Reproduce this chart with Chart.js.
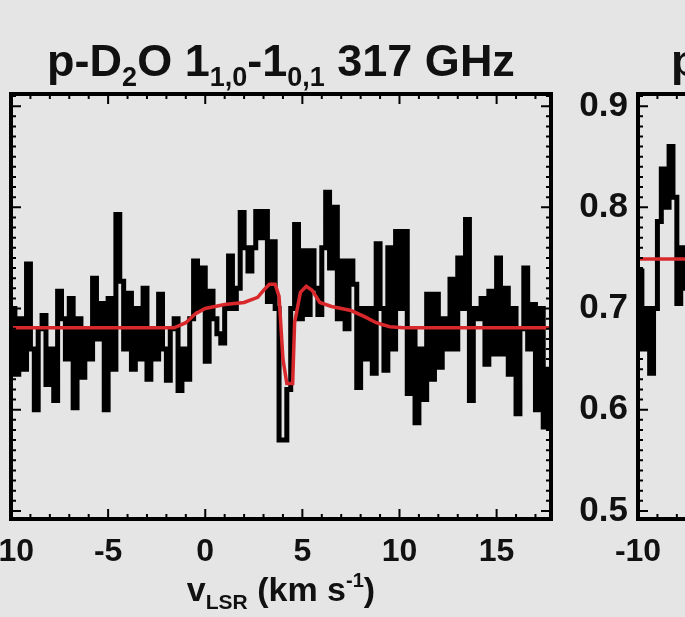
<!DOCTYPE html>
<html>
<head>
<meta charset="utf-8">
<script src="https://cdn.jsdelivr.net/npm/chart.js@4.4.0/dist/chart.umd.min.js"></script>
<style>
  body { margin: 0; width: 685px; height: 617px; overflow: hidden; position: relative;
         background: #e5e5e5; font-family: "Liberation Sans", Arial, sans-serif; font-weight: bold; }
  canvas { position: absolute; top: 0; }
  #left { left: -70px; }
  #right { left: 560px; }
  .title { position: absolute; font-size: 45px; white-space: nowrap; color: #111; }
  .title sub { font-size: 27px; vertical-align: -10px; line-height: 0; }
  #xlabel { position: absolute; font-size: 34px; white-space: nowrap; color: #111; }
  #xlabel sub { font-size: 21px; vertical-align: -8px; line-height: 0; }
  #xlabel sup { font-size: 20px; vertical-align: 14px; line-height: 0; }
</style>
</head>
<body>
<canvas id="left" width="630" height="617"></canvas>
<canvas id="right" width="640" height="617"></canvas>
<div class="title" style="left:281px; top:35px; transform:translateX(-50%);">p-D<sub>2</sub>O 1<sub>1,0</sub>-1<sub>0,1</sub> 317 GHz</div>
<div class="title" style="left:671px; top:35px;">p</div>
<div id="xlabel" style="left:281px; top:570px; transform:translateX(-50%);">v<sub>LSR</sub> (km s<sup>-1</sup>)</div>
<script>
// channel velocities (km/s), left panel
const LEFT_V = [-9.9, -9.7, -9.5, -9.3, -9.1, -8.9, -8.7, -8.5, -8.3, -8.1,
  -7.9, -7.7, -7.5, -7.3, -7.1, -6.9, -6.7, -6.5, -6.3, -6.1,
  -5.9, -5.7, -5.5, -5.3, -5.1, -4.9, -4.7, -4.5, -4.3, -4.1,
  -3.9, -3.7, -3.5, -3.3, -3.1, -2.9, -2.7, -2.5, -2.3, -2.1,
  -1.9, -1.7, -1.5, -1.3, -1.1, -0.9, -0.7, -0.5, -0.3, -0.1,
  0.1, 0.3, 0.5, 0.7, 0.9, 1.1, 1.3, 1.5, 1.7, 1.9,
  2.1, 2.3, 2.5, 2.7, 2.9, 3.1, 3.3, 3.5, 3.7, 3.9,
  4.1, 4.3, 4.5, 4.7, 4.9, 5.1, 5.3, 5.5, 5.7, 5.9,
  6.1, 6.3, 6.5, 6.7, 6.9, 7.1, 7.3, 7.5, 7.7, 7.9,
  8.1, 8.3, 8.5, 8.7, 8.9, 9.1, 9.3, 9.5, 9.7, 9.9,
  10.1, 10.3, 10.5, 10.7, 10.9, 11.1, 11.3, 11.5, 11.7, 11.9,
  12.1, 12.3, 12.5, 12.7, 12.9, 13.1, 13.3, 13.5, 13.7, 13.9,
  14.1, 14.3, 14.5, 14.7, 14.9, 15.1, 15.3, 15.5, 15.7, 15.9,
  16.1, 16.3, 16.5, 16.7, 16.9, 17.1, 17.3, 17.5, 17.7];
// antenna temperature per channel (K), left panel
const LEFT_T = [0.700, 0.635, 0.690, 0.640, 0.744, 0.660, 0.600, 0.680, 0.693, 0.625,
  0.660, 0.609, 0.717, 0.690, 0.650, 0.710, 0.602, 0.690, 0.632, 0.680,
  0.650, 0.730, 0.670, 0.705, 0.600, 0.710, 0.640, 0.793, 0.727, 0.660,
  0.715, 0.640, 0.700, 0.650, 0.720, 0.630, 0.680, 0.650, 0.714, 0.660,
  0.629, 0.680, 0.690, 0.619, 0.660, 0.630, 0.690, 0.747, 0.700, 0.740,
  0.648, 0.717, 0.690, 0.675, 0.666, 0.700, 0.752, 0.700, 0.720, 0.795,
  0.760, 0.737, 0.760, 0.796, 0.770, 0.796, 0.707, 0.766, 0.700, 0.570,
  0.570, 0.620, 0.700, 0.783, 0.690, 0.757, 0.694, 0.757, 0.720, 0.694,
  0.760, 0.815, 0.740, 0.800, 0.690, 0.747, 0.680, 0.747, 0.724, 0.622,
  0.700, 0.650, 0.700, 0.636, 0.764, 0.700, 0.639, 0.760, 0.660, 0.776,
  0.700, 0.776, 0.616, 0.680, 0.587, 0.660, 0.610, 0.714, 0.630, 0.714,
  0.642, 0.690, 0.660, 0.729, 0.660, 0.750, 0.700, 0.788, 0.609, 0.700,
  0.690, 0.710, 0.645, 0.717, 0.655, 0.750, 0.655, 0.720, 0.635, 0.700,
  0.596, 0.680, 0.740, 0.660, 0.704, 0.600, 0.700, 0.583, 0.640];

// model (red) for left panel
const LEFT_MODEL_V = [-10, -1.6, -1.0, -0.5, 0, 1, 2, 2.7, 3.0, 3.3, 3.6, 3.8, 4.0, 4.2,
  4.5, 4.6, 4.9, 5.2, 5.5, 5.9, 6.5, 7.5, 8.2, 8.8, 9.5, 10.2, 17.8];
const LEFT_MODEL_T = [0.681, 0.681, 0.686, 0.695, 0.700, 0.704, 0.706, 0.711, 0.718, 0.724, 0.724, 0.712, 0.650, 0.626,
  0.626, 0.686, 0.716, 0.722, 0.718, 0.706, 0.702, 0.698, 0.692, 0.686, 0.682, 0.681, 0.681];

// right panel (only its left edge is in view)
const RIGHT_V = [-9.9, -9.7, -9.5, -9.3, -9.1, -8.9, -8.7, -8.5, -8.3, -8.1, -7.9, -7.7, -7.5];
const RIGHT_T = [0.737, 0.660, 0.700, 0.636, 0.700, 0.786, 0.838, 0.800, 0.860, 0.810, 0.705, 0.760, 0.720];
const RIGHT_MODEL_V = [-10, -7.3];
const RIGHT_MODEL_T = [0.749, 0.749];

const X_MIN = -10, X_MAX = 17.8;
const Y_MIN = 0.492, Y_MAX = 0.912;

const pts = (xs, ys) => xs.map((x, i) => ({ x: x, y: ys[i] }));

const framePlugin = {
  id: 'frame',
  afterDraw(chart) {
    const { ctx, chartArea: a, scales } = chart;
    const xs = scales.x, ys = scales.y;
    ctx.save();
    ctx.strokeStyle = '#000';
    ctx.lineWidth = 2;
    ctx.beginPath();
    for (let v = Math.ceil(xs.min); v <= xs.max; v++) {
      const px = xs.getPixelForValue(v);
      const len = v % 5 === 0 ? 10 : 5;
      ctx.moveTo(px, a.bottom); ctx.lineTo(px, a.bottom - len);
      ctx.moveTo(px, a.top); ctx.lineTo(px, a.top + len);
    }
    for (let k = Math.ceil(ys.min * 100); k <= Math.floor(ys.max * 100); k++) {
      const py = ys.getPixelForValue(k / 100);
      const len = k % 10 === 0 ? 10 : 5;
      ctx.moveTo(a.left, py); ctx.lineTo(a.left + len, py);
      ctx.moveTo(a.right, py); ctx.lineTo(a.right - len, py);
    }
    ctx.stroke();
    ctx.lineWidth = 4;
    ctx.strokeRect(a.left, a.top, a.right - a.left, a.bottom - a.top);
    ctx.restore();
  }
};

function makeChart(id, specV, specT, modV, modT, yWidth, padRight) {
  return new Chart(document.getElementById(id), {
    type: 'line',
    data: {
      datasets: [
        {
          data: pts(modV, modT),
          borderColor: '#d8282c',
          borderWidth: 3.5,
          pointRadius: 0,
          tension: 0,
          order: 0
        },
        {
          data: pts(specV, specT),
          borderColor: '#000',
          borderWidth: 5,
          pointRadius: 0,
          stepped: 'middle',
          borderJoinStyle: 'miter',
          order: 1
        }
      ]
    },
    options: {
      responsive: false,
      animation: false,
      devicePixelRatio: 1,
      layout: { padding: { left: 0, right: padRight, top: 94, bottom: 38 } },
      plugins: { legend: { display: false }, tooltip: { enabled: false } },
      scales: {
        x: {
          type: 'linear', min: X_MIN, max: X_MAX,
          grid: { display: false, drawTicks: false },
          border: { display: false },
          afterFit: s => { s.height = 60; },
          ticks: {
            stepSize: 5, includeBounds: false, padding: 14, color: '#111',
            font: { family: 'Liberation Sans', size: 32, weight: 'bold' },
            maxRotation: 0, autoSkip: false
          }
        },
        y: {
          min: Y_MIN, max: Y_MAX,
          grid: { display: false, drawTicks: false },
          border: { display: false },
          afterFit: s => { s.width = yWidth; },
          ticks: {
            stepSize: 0.1, includeBounds: false, padding: 10, color: '#111',
            font: { family: 'Liberation Sans', size: 35, weight: 'bold' },
            callback: v => v.toFixed(1)
          }
        }
      }
    },
    plugins: [framePlugin]
  });
}

makeChart('left', LEFT_V, LEFT_T, LEFT_MODEL_V, LEFT_MODEL_T, 81, 9);
makeChart('right', RIGHT_V, RIGHT_T, RIGHT_MODEL_V, RIGHT_MODEL_T, 78, 22);
</script>
</body>
</html>
